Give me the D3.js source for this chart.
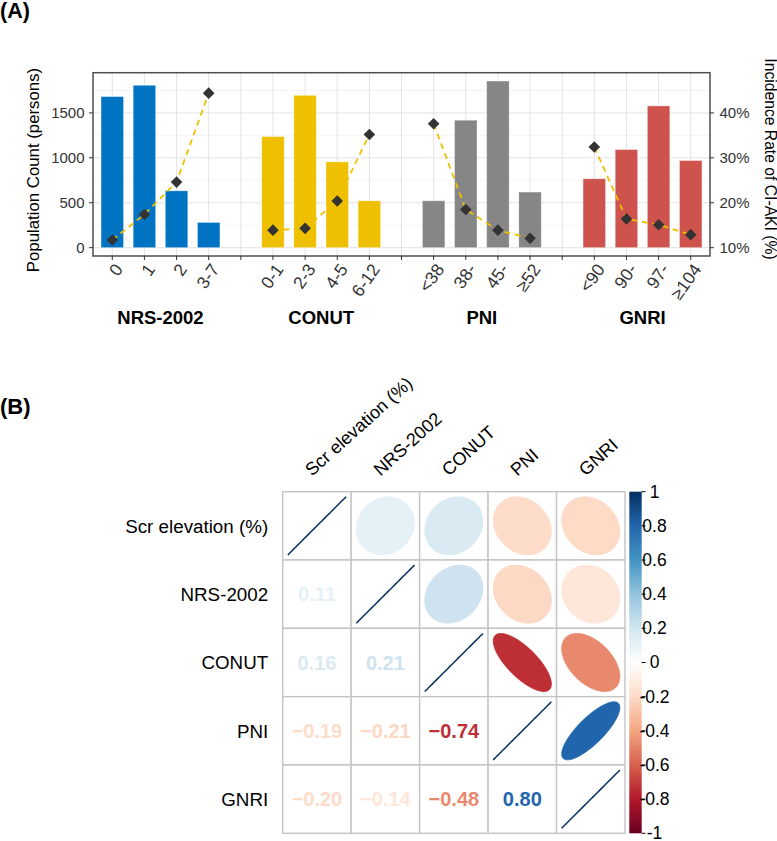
<!DOCTYPE html>
<html><head><meta charset="utf-8">
<script src="https://cdnjs.cloudflare.com/ajax/libs/d3/7.8.5/d3.min.js"></script>
<style>
html,body{margin:0;padding:0;background:#fff;}
svg{display:block;font-family:"Liberation Sans",Arial,Helvetica,sans-serif;}
</style></head>
<body><svg id="chart" width="777" height="841"></svg>
<script>
// ---------- Panel A data ----------
const groups = ["NRS-2002", "CONUT", "PNI", "GNRI"];
const categories = [
  ["0", "1", "2", "3-7"],
  ["0-1", "2-3", "4-5", "6-12"],
  ["<38", "38-", "45-", "≥52"],
  ["<90", "90-", "97-", "≥104"]
];
const counts = [
  [1682, 1808, 633, 281],
  [1237, 1696, 955, 522],
  [522, 1419, 1855, 619],
  [767, 1092, 1578, 970]
];
const rates = [
  [11.7, 17.4, 24.6, 44.4],
  [13.9, 14.3, 20.4, 35.2],
  [37.6, 18.5, 13.9, 12.1],
  [32.4, 16.4, 15.1, 12.9]
];
const groupColors = ["#0073C2", "#EFC000", "#868686", "#CD534C"];
const countTicks = [0, 500, 1000, 1500];
const rateTicks = [10, 20, 30, 40];

// ---------- Panel B data ----------
const vars = ["Scr elevation (%)", "NRS-2002", "CONUT", "PNI", "GNRI"];
const corrMatrix = [
  [1.00, 0.11, 0.16, -0.19, -0.20],
  [0.11, 1.00, 0.21, -0.21, -0.14],
  [0.16, 0.21, 1.00, -0.74, -0.48],
  [-0.19, -0.21, -0.74, 1.00, 0.80],
  [-0.20, -0.14, -0.48, 0.80, 1.00]
];
const legendTicks = [1, 0.8, 0.6, 0.4, 0.2, 0, -0.2, -0.4, -0.6, -0.8, -1];
const paletteStops = ["#67001F", "#B2182B", "#D6604D", "#F4A582", "#FDDBC7", "#FFFFFF",
                      "#D1E5F0", "#92C5DE", "#4393C3", "#2166AC", "#053061"];

const svg = d3.select("#chart");

// ================= PANEL A =================
svg.append("text").attr("x", 0).attr("y", 17.5).attr("font-size", 21.5)
  .attr("font-weight", "bold").text("(A)");

const slots = [];
groups.forEach((g, gi) => {
  categories[gi].forEach((c, ci) => slots.push({gi, ci, label: c, count: counts[gi][ci], rate: rates[gi][ci]}));
  if (gi < groups.length - 1) slots.push({gi: -1, label: ""});
});
slots.forEach((s, i) => s.idx = i);

const pL = 93, pR = 710, pT = 72.7, pB = 256;
const x = d3.scalePoint().domain(d3.range(slots.length)).range([pL, pR]).padding(0.6);
const maxCount = d3.max(counts.flat());
const yDom = [0 - 0.05 * maxCount, maxCount * 1.05];
const y = d3.scaleLinear().domain(yDom).range([pB, pT]);
// secondary axis: rate (%) = count/50 + 10
const toRate = v => v / 50 + 10;
const y2 = d3.scaleLinear().domain(yDom.map(toRate)).range([pB, pT]);

const gA = svg.append("g");
// grid
const minorTicks = [250, 750, 1250, 1750].filter(v => v < yDom[1]);
gA.selectAll(".minor").data(minorTicks).join("line")
  .attr("x1", pL).attr("x2", pR).attr("y1", d => y(d)).attr("y2", d => y(d))
  .attr("stroke", "#efefef").attr("stroke-width", 0.7);
gA.selectAll(".major").data(countTicks).join("line")
  .attr("x1", pL).attr("x2", pR).attr("y1", d => y(d)).attr("y2", d => y(d))
  .attr("stroke", "#e3e3e3").attr("stroke-width", 1);
gA.selectAll(".vgrid").data(slots).join("line")
  .attr("x1", d => x(d.idx)).attr("x2", d => x(d.idx)).attr("y1", pT).attr("y2", pB)
  .attr("stroke", "#e3e3e3").attr("stroke-width", 1);

// bars
const bw = x.step() * 0.7;
const real = slots.filter(s => s.gi >= 0);
gA.selectAll(".bar").data(real).join("rect")
  .attr("x", d => x(d.idx) - bw / 2).attr("width", bw)
  .attr("y", d => y(d.count)).attr("height", d => y(0) - y(d.count))
  .attr("fill", d => groupColors[d.gi])
  .attr("stroke", "#ffffff").attr("stroke-opacity", 0.45).attr("stroke-width", 0.8);

// dashed lines per group
const line = d3.line().x(d => x(d.idx)).y(d => y2(d.rate));
groups.forEach((g, gi) => {
  gA.append("path").datum(real.filter(s => s.gi === gi))
    .attr("d", line).attr("fill", "none").attr("stroke", "#EFC000")
    .attr("stroke-width", 1.8).attr("stroke-dasharray", "6,4.5");
});
// diamonds
const ds = 5.8;
gA.selectAll(".pt").data(real).join("path")
  .attr("d", d => {
    const cx = x(d.idx), cy = y2(d.rate);
    return `M${cx},${cy - ds}L${cx + ds},${cy}L${cx},${cy + ds}L${cx - ds},${cy}Z`;
  })
  .attr("fill", "#333333");

// border
gA.append("rect").attr("x", pL).attr("y", pT).attr("width", pR - pL).attr("height", pB - pT)
  .attr("fill", "none").attr("stroke", "#4d4d4d").attr("stroke-width", 1.5);

// left axis
gA.selectAll(".ylt").data(countTicks).join("line")
  .attr("x1", pL - 4).attr("x2", pL).attr("y1", d => y(d)).attr("y2", d => y(d))
  .attr("stroke", "#333").attr("stroke-width", 1);
gA.selectAll(".yll").data(countTicks).join("text")
  .attr("x", pL - 8.5).attr("y", d => y(d)).attr("dy", "0.36em")
  .attr("text-anchor", "end").attr("font-size", 15).attr("fill", "#333").text(d => d);
// right axis
gA.selectAll(".yrt").data(rateTicks).join("line")
  .attr("x1", pR).attr("x2", pR + 4).attr("y1", d => y2(d)).attr("y2", d => y2(d))
  .attr("stroke", "#333").attr("stroke-width", 1);
gA.selectAll(".yrl").data(rateTicks).join("text")
  .attr("x", pR + 9.5).attr("y", d => y2(d)).attr("dy", "0.36em")
  .attr("text-anchor", "start").attr("font-size", 15).attr("fill", "#333").text(d => d + "%");
// bottom axis
gA.selectAll(".xt").data(slots).join("line")
  .attr("x1", d => x(d.idx)).attr("x2", d => x(d.idx)).attr("y1", pB).attr("y2", pB + 4)
  .attr("stroke", "#333").attr("stroke-width", 1);
gA.selectAll(".xl").data(real).join("text")
  .attr("transform", d => `translate(${x(d.idx) + 1},${pB + 6}) rotate(-55)`)
  .attr("dy", "0.72em").attr("text-anchor", "end")
  .attr("font-size", 17.5).attr("fill", "#333").text(d => d.label);
// group labels
groups.forEach((g, gi) => {
  const ss = real.filter(s => s.gi === gi);
  const cx = (x(ss[0].idx) + x(ss[ss.length - 1].idx)) / 2;
  gA.append("text").attr("x", cx).attr("y", 324).attr("text-anchor", "middle")
    .attr("font-size", 18.5).attr("font-weight", "bold").text(g);
});
// axis titles
gA.append("text").attr("transform", `translate(38.5,170) rotate(-90)`)
  .attr("text-anchor", "middle").attr("font-size", 16.8).text("Population Count (persons)");
gA.append("text").attr("transform", `translate(764.5,159) rotate(90)`)
  .attr("text-anchor", "middle").attr("font-size", 15.7).text("Incidence Rate of CI-AKI (%)");

// ================= PANEL B =================
svg.append("text").attr("x", 0).attr("y", 414).attr("font-size", 22)
  .attr("font-weight", "bold").text("(B)");

const gL = 282.7, gR = 625, gT = 491.7, gBt = 833.3;
const cx = d3.scaleBand().domain(vars).range([gL, gR]);
const cy = d3.scaleBand().domain(vars).range([gT, gBt]);
const cs = cx.bandwidth(), csy = cy.bandwidth();
const color = d3.scaleLinear().domain(d3.range(paletteStops.length).map(i => -1 + 2 * i / (paletteStops.length - 1)))
  .range(paletteStops).interpolate(d3.interpolateRgb).clamp(true);

const gB = svg.append("g");
const cells = [];
vars.forEach((r, i) => vars.forEach((c, j) => cells.push({i, j, r, c, v: corrMatrix[i][j]})));

gB.selectAll(".cell").data(cells).join("rect")
  .attr("x", d => cx(d.c)).attr("y", d => cy(d.r)).attr("width", cs).attr("height", csy)
  .attr("fill", "#fff").attr("stroke", "#c4c4c4").attr("stroke-width", 1.4);

// ellipses (upper + diagonal)
function ellipsePts(rho) {
  const a = Math.acos(Math.max(-1, Math.min(1, rho)));
  return d3.range(99).map(t => {
    const k = 2 * Math.PI * t / 98;
    return [0.85 * Math.cos(k + a / 2) / 2, 0.85 * Math.cos(k - a / 2) / 2];
  });
}
gB.selectAll(".ell").data(cells.filter(d => d.j >= d.i)).join("path")
  .attr("d", d => {
    const ox = cx(d.c) + cs / 2, oy = cy(d.r) + csy / 2;
    return d3.line().x(p => ox + p[0] * cs).y(p => oy - p[1] * csy).curve(d3.curveLinearClosed)(ellipsePts(d.v));
  })
  .attr("fill", d => color(d.v)).attr("stroke", d => color(d.v)).attr("stroke-width", d => d.i === d.j ? 1.5 : 0.8);

// numbers (lower)
const fmt = d3.format(".2f");
gB.selectAll(".num").data(cells.filter(d => d.j < d.i)).join("text")
  .attr("x", d => cx(d.c) + cs / 2).attr("y", d => cy(d.r) + csy / 2).attr("dy", "0.36em")
  .attr("text-anchor", "middle").attr("font-size", 20).attr("font-weight", "bold")
  .attr("fill", d => color(d.v)).text(d => fmt(d.v));

// row labels
gB.selectAll(".rl").data(vars).join("text")
  .attr("x", gL - 14.5).attr("y", d => cy(d) + csy / 2).attr("dy", "0.36em")
  .attr("text-anchor", "end").attr("font-size", 18.8).attr("fill", "#000").text(d => d);
// column labels
gB.selectAll(".cl").data(vars).join("text")
  .attr("transform", d => `translate(${cx(d) + cs / 2 - 5},${gT - 15}) rotate(-42)`)
  .attr("text-anchor", "start").attr("font-size", 18).attr("fill", "#000").text(d => d);

// color legend
const lx = 629.3, lw = 12.4;
const ly = d3.scaleLinear().domain([1, -1]).range([gT, gBt]);
const defs = svg.append("defs");
const grad = defs.append("linearGradient").attr("id", "cbar").attr("x1", 0).attr("x2", 0).attr("y1", 0).attr("y2", 1);
paletteStops.slice().reverse().forEach((c, i) => grad.append("stop")
  .attr("offset", i / (paletteStops.length - 1)).attr("stop-color", c));
gB.append("rect").attr("x", lx).attr("y", gT).attr("width", lw).attr("height", gBt - gT)
  .attr("fill", "url(#cbar)");
gB.selectAll(".lt").data(legendTicks).join("line")
  .attr("x1", lx + lw).attr("x2", lx + lw + 3.8).attr("y1", d => ly(d)).attr("y2", d => ly(d))
  .attr("stroke", "#000").attr("stroke-width", 1);
const lfmt = v => (v < 0 ? "-" : "") + d3.format("~g")(Math.abs(v));
gB.selectAll(".ll").data(legendTicks).join("text")
  .attr("x", 654.5).attr("y", d => ly(d)).attr("dy", "0.34em")
  .attr("text-anchor", "middle").attr("font-size", 17.5).attr("fill", "#000").text(lfmt);
</script></body></html>
